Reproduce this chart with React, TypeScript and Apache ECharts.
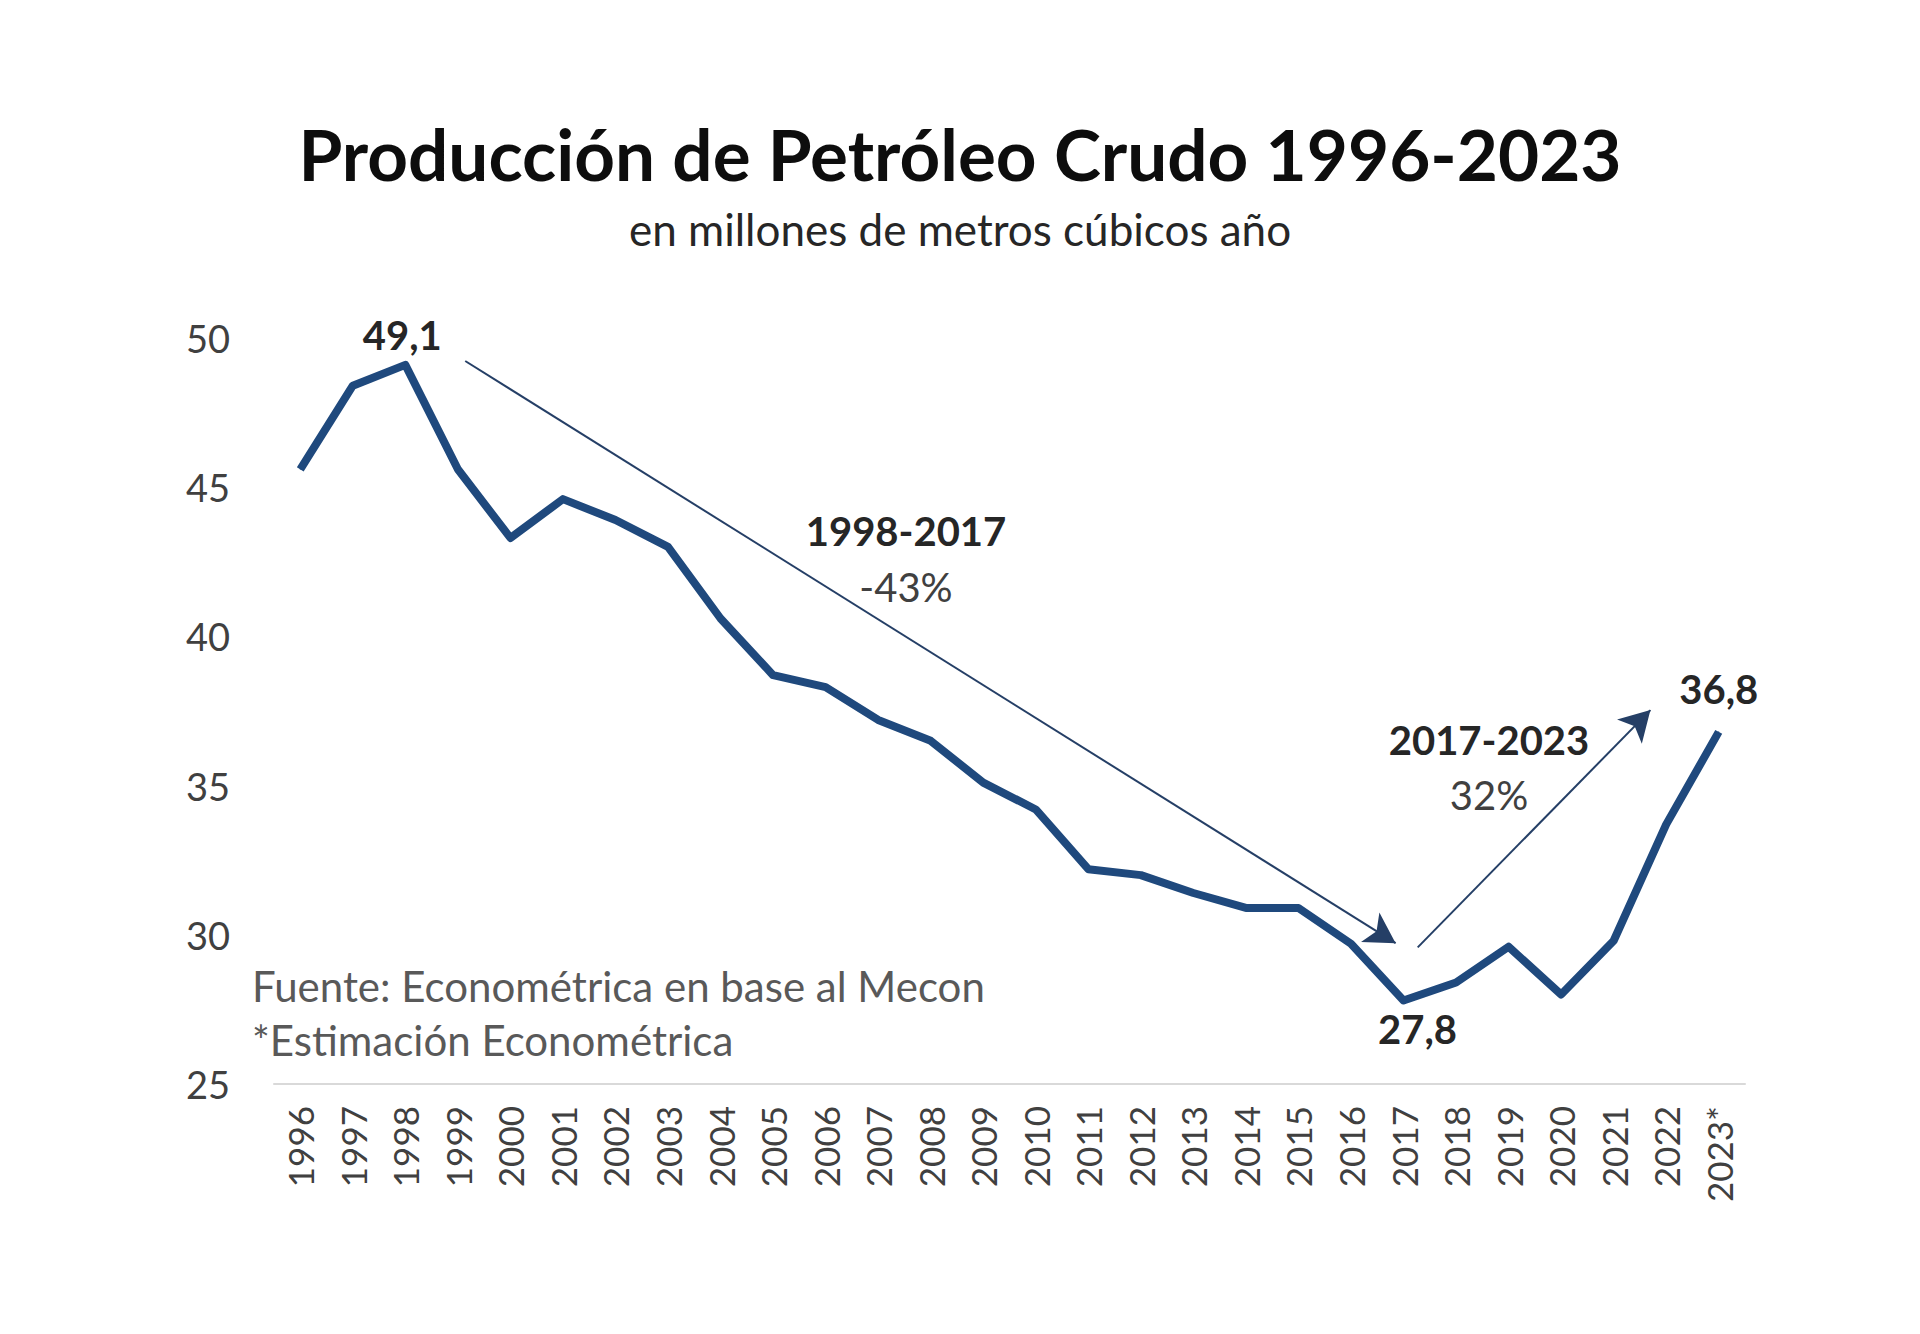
import React, { useEffect, useRef } from "react";
import * as echarts from "echarts";

const years = ["1996","1997","1998","1999","2000","2001","2002","2003","2004","2005","2006","2007","2008","2009","2010","2011","2012","2013","2014","2015","2016","2017","2018","2019","2020","2021","2022","2023*"];
const production = [45.6,48.4,49.1,45.6,43.3,44.6,43.9,43.0,40.6,38.7,38.3,37.2,36.5,35.1,34.2,32.2,32.0,31.4,30.9,30.9,29.7,27.8,28.4,29.6,28.0,29.8,33.7,36.8];
// labelled points: index -> position
const labelledPoints: Record<number, string> = { 2: "top", 21: "bottom", 27: "top" };
// trend arrows in (category index, value) space
const arrow1 = [[3.14, 49.23], [20.85, 29.72]];
const arrow2 = [[21.27, 29.58], [25.7, 37.53]];

const FONT = "Lato, 'Noto Sans', sans-serif";
const NAVY = "#1f497d";

export default function App() {
  const ref = useRef<HTMLDivElement>(null);
  useEffect(() => {
    document.body.style.margin = "0";
    const chart = echarts.init(ref.current!, null, { renderer: "svg" });
    const txt = (text: string, x: number, y: number, size: number, weight: string, color: string, align = "center") => ({
      type: "text",
      x,
      y,
      silent: true,
      style: {
        text,
        fontFamily: FONT,
        fontSize: size,
        fontWeight: weight,
        fill: color,
        align,
        verticalAlign: "middle",
        textAlign: align,
        textVerticalAlign: "middle",
      },
    });
    chart.setOption({
      animation: false,
      backgroundColor: "#ffffff",
      textStyle: { fontFamily: FONT },
      grid: { left: 274, right: 175, top: 338, bottom: 250, containLabel: false },
      xAxis: [
        {
          type: "category",
          data: years,
          boundaryGap: true,
          axisLine: { show: true, lineStyle: { color: "#d9d9d9", width: 2 } },
          axisTick: { show: false },
          axisLabel: { rotate: 90, fontSize: 35, color: "#404040", margin: 22, interval: 0, fontFamily: FONT },
          splitLine: { show: false },
        },
        {
          type: "value",
          min: -0.5,
          max: 27.5,
          show: false,
        },
      ],
      yAxis: {
        type: "value",
        min: 25,
        max: 50,
        interval: 5,
        axisLine: { show: false },
        axisTick: { show: false },
        splitLine: { show: false },
        axisLabel: { fontSize: 38, color: "#404040", margin: 44, fontFamily: FONT },
      },
      series: [
        {
          type: "line",
          data: production.map((v, i) =>
            labelledPoints[i]
              ? {
                  value: v,
                  label: {
                    show: true,
                    position: labelledPoints[i],
                    distance: i === 27 ? 22 : 12,
                    offset: i === 21 ? [14, -4] : i === 2 ? [-3, 3] : [0, 0],
                    formatter: (p: any) => String(p.value).replace(".", ","),
                    fontSize: 40,
                    fontWeight: "bold",
                    color: "#262626",
                    fontFamily: FONT,
                  },
                }
              : v
          ),
          showSymbol: true,
          showAllSymbol: true,
          symbol: "circle",
          symbolSize: 1,
          itemStyle: { color: NAVY },
          lineStyle: { color: NAVY, width: 8, join: "round" },
          silent: true,
          z: 3,
        },
        {
          type: "scatter",
          xAxisIndex: 1,
          yAxisIndex: 0,
          data: [],
          silent: true,
          markLine: {
            silent: true,
            symbol: ["none", "arrow"],
            symbolSize: [26, 30],
            label: { show: false },
            lineStyle: { color: "#253f66", width: 2, type: "solid" },
            emphasis: { disabled: true },
            data: [
              [{ coord: arrow1[0] }, { coord: arrow1[1] }],
              [{ coord: arrow2[0] }, { coord: arrow2[1] }],
            ],
          },
        },
      ],
      graphic: [
        txt("Producción de Petróleo Crudo 1996-2023", 960, 153, 71, "bold", "#0d0d0d"),
        txt("en millones de metros cúbicos año", 960, 229, 44, "normal", "#262626"),
        txt("1998-2017", 906, 531, 40, "bold", "#262626"),
        txt("-43%", 906, 587, 40, "normal", "#404040"),
        txt("2017-2023", 1489, 740, 40, "bold", "#262626"),
        txt("32%", 1489, 795, 40, "normal", "#404040"),
        txt("Fuente: Econométrica en base al Mecon", 252, 986, 42, "normal", "#595959", "left"),
        txt("*Estimación Econométrica", 252, 1040, 42, "normal", "#595959", "left"),
      ],
    });
    return () => chart.dispose();
  }, []);
  return <div ref={ref} style={{ width: 1920, height: 1334 }} />;
}
